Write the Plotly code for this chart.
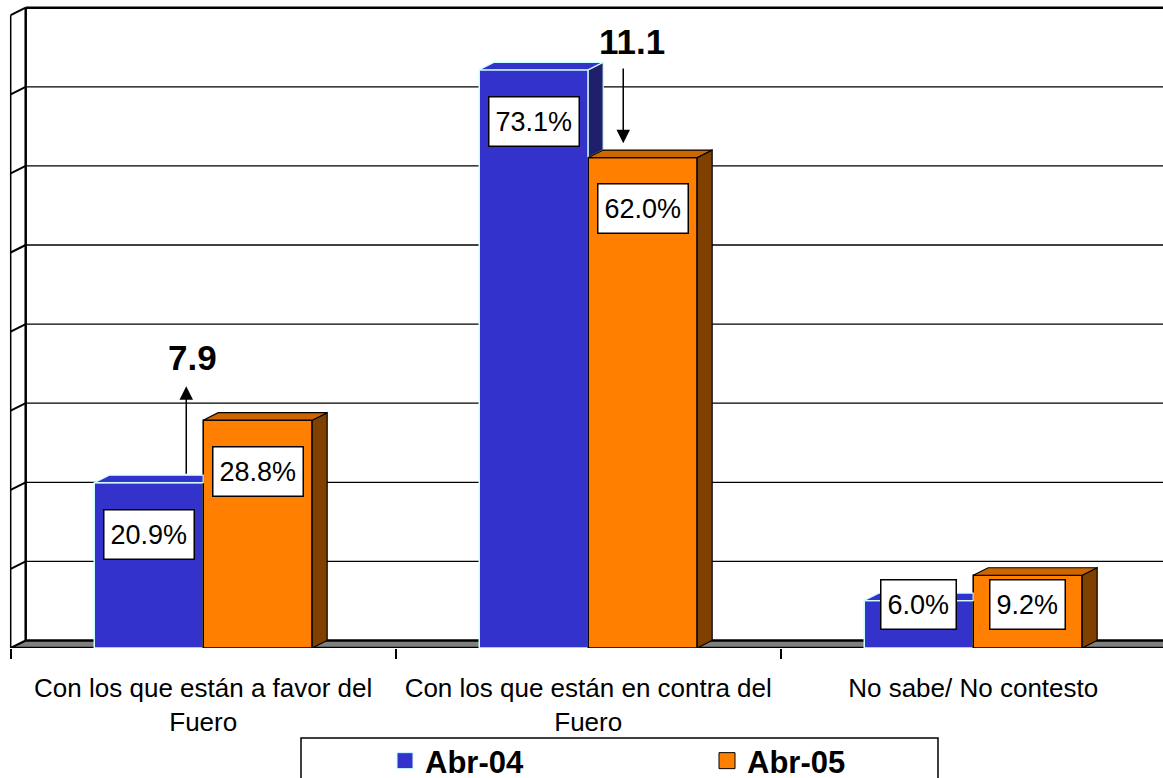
import plotly.graph_objects as go

# ---------------- data ----------------
categories = ["Con los que están a favor del<br>Fuero",
              "Con los que están en contra del<br>Fuero",
              "No sabe/ No contesto"]
series_names = ["Abr-04", "Abr-05"]
abr04 = [20.9, 73.1, 6.0]
abr05 = [28.8, 62.0, 9.2]
change_labels = ["7.9", "11.1"]
y_grid = [0, 10, 20, 30, 40, 50, 60, 70, 80]

# ---------------- geometry / style ----------------
W, H = 1163, 778
ML, MR, MT, MB = 3, 0, 3, 130
PX_X = 385.0            # px per category
PX_Y = 7.91             # px per percentage point
plot_w = W - ML - MR
plot_h = H - MT - MB
x_lo = -0.52
x_hi = x_lo + plot_w / PX_X
y_hi = plot_h / PX_Y
DX = 15 / PX_X          # 3-D depth offset (x)
DY = 7.5 / PX_Y         # 3-D depth offset (y)
BW = 0.283              # bar width (category units)
FONT = "Liberation Sans, Arial, sans-serif"

BLUE, BLUE_TOP, BLUE_SIDE, BLUE_EDGE = "#3333CC", "#3333CC", "#1F1F6B", "#CCFFFF"
ORNG, ORNG_TOP, ORNG_SIDE = "#FF8000", "#CC6600", "#804000"

xs = list(range(len(categories)))
fig = go.Figure()

# front faces (real bars)
fig.add_trace(go.Bar(x=xs, y=abr04, width=BW, offset=-BW, name=series_names[0],
                     marker=dict(color=BLUE, line=dict(color=BLUE_EDGE, width=1.5)),
                     showlegend=False))
fig.add_trace(go.Bar(x=xs, y=abr05, width=BW, offset=0, name=series_names[1],
                     marker=dict(color=ORNG, line=dict(color="black", width=1.5)),
                     showlegend=False))


def poly(px, py, fill, line, lw=1.2):
    fig.add_trace(go.Scatter(x=px + [px[0]], y=py + [py[0]], mode="lines", fill="toself",
                             fillcolor=fill, line=dict(color=line, width=lw),
                             hoverinfo="skip", showlegend=False))


# blue side + top faces
for i, (v, w) in enumerate(zip(abr04, abr05)):
    x0, x1 = i - BW, i
    if v > w:
        poly([x1, x1, x1 + DX, x1 + DX], [w, v, v + DY, w + DY], BLUE_SIDE, BLUE_EDGE)
        poly([x0, x1, x1 + DX, x0 + DX], [v, v, v + DY, v + DY], BLUE_TOP, BLUE_EDGE)
    else:
        poly([x0, x1, x1, x0 + DX], [v, v, v + DY, v + DY], BLUE_TOP, BLUE_EDGE)

# orange side + top faces
for i, w in enumerate(abr05):
    x1, x2 = i, i + BW
    poly([x2, x2, x2 + DX, x2 + DX], [0, w, w + DY, DY], ORNG_SIDE, "black")
    poly([x1, x2, x2 + DX, x1 + DX], [w, w, w + DY, w + DY], ORNG_TOP, "black")

# legend entries
fig.add_trace(go.Scatter(x=[None], y=[None], mode="markers", name=series_names[0],
                         marker=dict(symbol="square", size=16, color=BLUE,
                                     line=dict(color=BLUE_EDGE, width=1))))
fig.add_trace(go.Scatter(x=[None], y=[None], mode="markers", name=series_names[1],
                         marker=dict(symbol="square", size=16, color=ORNG,
                                     line=dict(color="black", width=1))))

# ---------------- walls, floor, gridlines ----------------
shapes = []
xl, xb, xr = -0.5, -0.5 + DX, x_hi + 1
shapes.append(dict(type="path", layer="below", xref="x", yref="y",
                   path=f"M{xl},0 L{xr},0 L{xr},{DY} L{xb},{DY} Z",
                   fillcolor="#808080", line=dict(width=0)))
for v in y_grid:
    lw = 2.5 if v in (0, y_grid[-1]) else 1.3
    shapes.append(dict(type="line", layer="below", xref="x", yref="y",
                       x0=xb, x1=xr, y0=v + DY, y1=v + DY, line=dict(color="black", width=lw)))
    shapes.append(dict(type="line", layer="below", xref="x", yref="y",
                       x0=xl, x1=xb, y0=v, y1=v + DY, line=dict(color="black", width=2)))
shapes.append(dict(type="line", layer="below", xref="x", yref="y",
                   x0=xb, x1=xb, y0=DY, y1=y_grid[-1] + DY, line=dict(color="black", width=2.5)))
shapes.append(dict(type="line", layer="below", xref="x", yref="y",
                   x0=xl, x1=xl, y0=0, y1=y_grid[-1], line=dict(color="black", width=1.5)))
shapes.append(dict(type="line", layer="below", xref="x", yref="y",
                   x0=xl, x1=xr, y0=0, y1=0, line=dict(color="black", width=2.5)))
# legend frame
shapes.append(dict(type="rect", layer="below", xref="paper", yref="paper",
                   x0=(301 - ML) / plot_w, x1=(938 - ML) / plot_w,
                   y0=(H - MB - 738) / plot_h, y1=(H - MB - 800) / plot_h,
                   fillcolor="white", line=dict(color="black", width=1.5)))

# ---------------- annotations ----------------
ann = []
for i, (v, w) in enumerate(zip(abr04, abr05)):
    for xc, val in ((i - BW / 2, v), (i + BW / 2, w)):
        ann.append(dict(x=xc, y=(val - 6.5 if val > 15 else 5.5), xref="x", yref="y",
                        text=f"{val:.1f}%", showarrow=False, height=36,
                        font=dict(family=FONT, size=27, color="black"),
                        bgcolor="white", bordercolor="black", borderwidth=1.5, borderpad=6))

# change arrows
ann.append(dict(x=0 - 0.044, y=abr05[0] + 4.3, ax=0 - 0.044, ay=abr04[0] + DY,
                xref="x", yref="y", axref="x", ayref="y", text="", showarrow=True,
                arrowhead=2, arrowsize=1.8, arrowwidth=1.5, arrowcolor="black"))
ann.append(dict(x=0 - 0.028, y=abr05[0] + 7.9, xref="x", yref="y", text=f"<b>{change_labels[0]}</b>",
                showarrow=False, font=dict(family=FONT, size=35, color="black")))
ann.append(dict(x=1 + 0.091, y=abr05[1] + DY + 0.85, ax=1 + 0.091, ay=abr04[1] + 0.35,
                xref="x", yref="y", axref="x", ayref="y", text="", showarrow=True,
                arrowhead=2, arrowsize=1.8, arrowwidth=1.5, arrowcolor="black"))
ann.append(dict(x=1 + 0.113, y=abr04[1] + 3.6, xref="x", yref="y", text=f"<b>{change_labels[1]}</b>",
                showarrow=False, font=dict(family=FONT, size=35, color="black")))

fig.update_layout(
    width=W, height=H,
    margin=dict(l=ML, r=MR, t=MT, b=MB, pad=0, autoexpand=False),
    paper_bgcolor="white", plot_bgcolor="white",
    barmode="overlay",
    shapes=shapes, annotations=ann,
    font=dict(family=FONT, color="black"),
    showlegend=True,
    legend=dict(orientation="h", x=(385 - ML) / plot_w, xanchor="left",
                y=(H - MB - 734) / plot_h, yanchor="top",
                bgcolor="rgba(0,0,0,0)", borderwidth=0,
                entrywidth=277, entrywidthmode="pixels",
                font=dict(family=FONT, size=31, color="black", weight="bold")),
    xaxis=dict(range=[x_lo, x_hi], tickmode="array", tickvals=xs, ticktext=categories,
               ticks="", showgrid=False, zeroline=False, showline=False, automargin=False,
               ticklabelstandoff=22,
               tickfont=dict(family=FONT, size=26, color="black"),
               minor=dict(tickmode="array", tickvals=[-0.5, 0.5, 1.5, 2.5], ticks="outside",
                          ticklen=10, tickwidth=1.5, tickcolor="black", showgrid=False)),
    yaxis=dict(range=[0, y_hi], showticklabels=False, showgrid=False, zeroline=False,
               showline=False, ticks="", automargin=False),
)

fig.write_html("out.html", config={"displayModeBar": False},
               post_script="document.body.style.margin='0';document.body.style.overflow='hidden';")
